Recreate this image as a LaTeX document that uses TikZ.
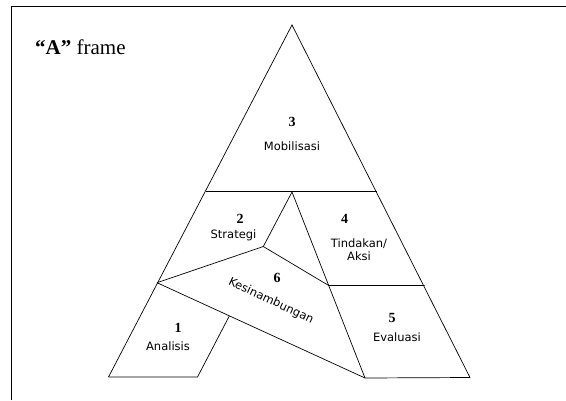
\documentclass[tikz,border=0pt]{standalone}
\usepackage{fontspec}
\setmainfont{Liberation Serif}
\newfontfamily\labelfont{DejaVu Sans}

\tikzset{
  part/.style={line width=0.7pt, line join=miter},
  num/.style={font=\fontsize{14}{14}\selectfont\bfseries, inner sep=0pt},
  lbl/.style={font=\labelfont\fontsize{11.5}{13.5}\selectfont, align=center, inner sep=0pt},
}

\begin{document}
\begin{tikzpicture}[x=1pt,y=-1pt]
\useasboundingbox (0,0) rectangle (566,400);

% frame
\draw [line width=0.8pt] (11,400) -- (11,6) -- (566,6);

% title
\node [anchor=base west, font=\fontsize{21}{21}\selectfont, inner sep=0pt] (title) at (35,54) {\textbf{“A”} frame};

% corners
\coordinate (apex) at (292,25);
\coordinate (bl) at (108.5,377);
\coordinate (br) at (470,377.5);
\coordinate (hl) at (205.5,191);
\coordinate (hr) at (377,191);
\coordinate (inner) at (292,192);
\coordinate (top6) at (263.3,246.5);
\coordinate (left6) at (157,282.7);
\coordinate (right6) at (328.7,285.5);
\coordinate (r45) at (424.5,285.5);
\coordinate (foot) at (365,378);
\coordinate (cut1) at (229.3,316);
\coordinate (base1) at (197.5,377);

% outline
\draw [part] (bl) -- (apex) -- (br);
\draw [part] (hl) -- (hr);

% inner parts
\draw [part] (bl) -- (base1) -- (cut1);
\draw [part] (left6) -- (foot) -- (br);
\draw [part] (top6) -- (inner) -- (foot);
\draw [part] (left6) -- (top6) -- (right6) -- (r45);

% labels
\node [num] (n3) at (292,122) {3};
\node [lbl] (t3) at (292,146) {Mobilisasi};
\node [num] (n2) at (240,219) {2};
\node [lbl] (t2) at (233.5,235) {Strategi};
\node [num] (n4) at (344.5,219) {4};
\node [lbl] (t4) at (359,249.5) {Tindakan/\\Aksi};
\node [num] (n6) at (277,277.5) {6};
\node [lbl, rotate=-25] (t6) at (271,301) {Kesinambungan};
\node [num] (n5) at (392,317.5) {5};
\node [lbl] (t5) at (397,337) {Evaluasi};
\node [num] (n1) at (178,328) {1};
\node [lbl] (t1) at (168,346) {Analisis};

\end{tikzpicture}
\end{document}
